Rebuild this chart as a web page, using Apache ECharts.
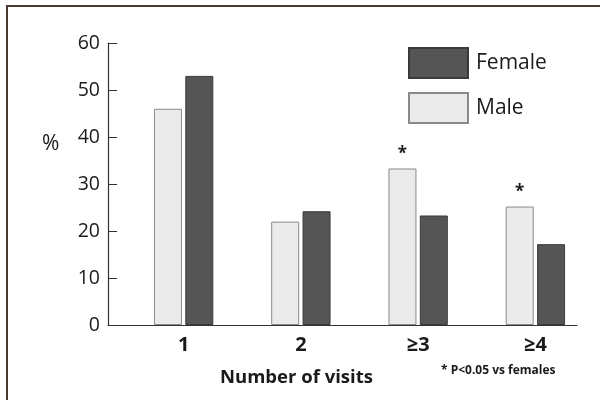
<!DOCTYPE html>
<html>
<head>
<meta charset="utf-8">
<script src="https://cdn.jsdelivr.net/npm/echarts@6/dist/echarts.min.js"></script>
<style>html,body{margin:0;padding:0;background:#fff;}#c{width:600px;height:400px;}</style>
</head>
<body>
<div id="c"></div>
<script>
var categories = ['1', '2', '\u22653', '\u22654'];
var maleValues = [46, 22, 33.3, 25.2];
var femaleValues = [53, 24.2, 23.3, 17.2];
var significant = [false, false, true, true];
var yTicks = [0, 10, 20, 30, 40, 50, 60];

var FONT = '"Open Sans", "Noto Sans", sans-serif';
var INK = '#1a1a1a';
var chart = echarts.init(document.getElementById('c'));

var maleData = maleValues.map(function (v, i) {
  return significant[i] ? { value: v, label: { show: true } } : v;
});

chart.setOption({
  backgroundColor: '#ffffff',
  animation: false,
  textStyle: { fontFamily: FONT },
  graphic: [{
    type: 'polyline',
    shape: { points: [[7, 420], [7, 6], [600, 6]] },
    style: { stroke: '#4a3a30', lineWidth: 2, fill: null },
    silent: true
  }],
  title: [
    { text: '%', left: 37, top: 129, textStyle: { fontFamily: FONT, fontSize: 21, fontWeight: 'normal', color: INK } },
    { text: 'Number of visits', left: 215, top: 363, textStyle: { fontFamily: FONT, fontSize: 18.5, fontWeight: 'bold', color: INK } },
    { text: '* P<0.05 vs females', left: 436, top: 360, textStyle: { fontFamily: FONT, fontSize: 12, fontWeight: 'bold', color: INK } }
  ],
  legend: {
    data: ['Female', 'Male'],
    orient: 'vertical',
    left: 403,
    top: 42,
    icon: 'rect',
    itemWidth: 59,
    itemHeight: 30,
    itemGap: 13,
    textStyle: { fontFamily: FONT, fontSize: 21, color: INK, padding: [0, 0, 0, 3] },
    selectedMode: false
  },
  grid: [
    { left: 108, right: 23, top: 43, bottom: 75 },
    { left: 125, right: 6, top: 43, bottom: 75 }
  ],
  xAxis: [
    {
      gridIndex: 0, type: 'category', data: categories, boundaryGap: true,
      axisLine: { lineStyle: { color: '#333', width: 1.2 } },
      axisTick: { inside: true, length: 7, lineStyle: { color: '#333' } },
      axisLabel: { show: false }
    },
    {
      gridIndex: 1, type: 'category', data: categories, boundaryGap: true,
      axisLine: { show: false }, axisTick: { show: false },
      axisLabel: { margin: 10, fontFamily: FONT, fontSize: 20, fontWeight: 'bold', color: INK }
    }
  ],
  yAxis: [
    {
      gridIndex: 0, type: 'value', min: yTicks[0], max: yTicks[yTicks.length - 1], interval: 10,
      axisLine: { show: true, lineStyle: { color: '#333', width: 1.2 } },
      axisTick: { show: true, inside: true, length: 9, lineStyle: { color: '#333' } },
      splitLine: { show: false },
      axisLabel: { margin: 8, fontFamily: FONT, fontSize: 19.5, color: INK }
    },
    {
      gridIndex: 1, type: 'value', min: yTicks[0], max: yTicks[yTicks.length - 1], interval: 10,
      show: false
    }
  ],
  series: [
    {
      name: 'Male', type: 'bar', xAxisIndex: 1, yAxisIndex: 1,
      data: maleData, barWidth: 28, barGap: '12%',
      itemStyle: { color: '#ebebeb', borderColor: '#8a8a8a', borderWidth: 1 },
      label: { show: false, position: 'top', distance: 6, formatter: '*', fontSize: 17, fontWeight: 'bold', color: INK, fontFamily: FONT }
    },
    {
      name: 'Female', type: 'bar', xAxisIndex: 1, yAxisIndex: 1,
      data: femaleValues, barWidth: 28,
      itemStyle: { color: '#555555', borderColor: '#3a3a3a', borderWidth: 1 }
    }
  ]
});
</script>
</body>
</html>
